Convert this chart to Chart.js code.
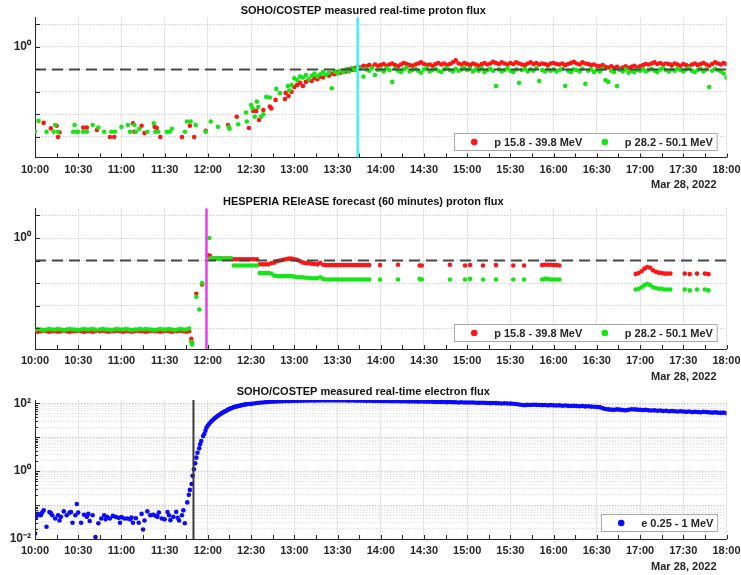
<!DOCTYPE html>
<html>
<head>
<meta charset="utf-8">
<title>SOHO/COSTEP and HESPERIA REleASE - Mar 28, 2022</title>
<script src="https://cdn.jsdelivr.net/npm/chart.js@4.4.1/dist/chart.umd.min.js"></script>
<style>
  body { margin: 0; background: #fff; }
  #wrap { position: relative; width: 741px; height: 575px; overflow: hidden; }
  #wrap canvas { position: absolute; left: 0; }
</style>
</head>
<body>
<div id="wrap">
  <canvas id="c1" width="741" height="193" style="top:0px;width:741px;height:193px"></canvas>
  <canvas id="c2" width="741" height="193" style="top:191px;width:741px;height:193px"></canvas>
  <canvas id="c3" width="741" height="193" style="top:382px;width:741px;height:193px"></canvas>
</div>
<script>
// times are minutes after 00:00 UT on Mar 28, 2022
const xTickLabels = ['10:00','10:30','11:00','11:30','12:00','12:30','13:00','13:30','14:00','14:30','15:00','15:30','16:00','16:30','17:00','17:30','18:00'];
const dateLabel = 'Mar 28, 2022';

const protonTicks = [0.0625, 0.125, 0.25, 0.5, 1, 2];
const protonTickLabels = ['', '', '', '', '10⁰', ''];
const protonThreshold = 0.5;

const electronDecades = [0.01, 0.1, 1, 10, 100];
const electronDecadeLabels = ['10⁻²', '', '10⁰', '', '10²'];

const labelLow = 'p 15.8 - 39.8 MeV';
const labelHigh = 'p 28.2 - 50.1 MeV';
const labelElectron = 'e 0.25 - 1 MeV';

// event markers
const sohoOnset = 824;      // 13:44
const releaseIssue = 719;   // 11:59
const electronOnset = 710;  // 11:50

function cadence(start, step, n) {
  return Array.from({ length: n }, (_, i) => start + i * step);
}

// ---- panel 1: SOHO/COSTEP measured protons ----
const sohoLowEarlyT = [606, 611, 615, 616, 617, 633.5, 636, 643, 652, 655, 668, 669, 674, 676, 683, 684.5, 687, 702, 707.5, 710.5, 718.5, 734, 740, 748.5, 751.5, 753.5, 755.5, 758.5, 763, 764, 767, 773.5, 774, 776, 778];
const sohoLowEarlyV = [.096, .081, .088, .062, .072, .083, .083, .077, .062, .062, .095, .073, .088, .070, .085, .082, .062, .062, .088, .062, .075, .090, .116, .082, .139, .139, .105, .143, .159, .150, .195, .200, .242, .220, .250];
const sohoHighEarlyT = [600, 602.5, 608, 613, 614, 616, 626.5, 627.5, 629, 630, 633.5, 636, 640, 644, 648, 653, 655.5, 660, 664.5, 666, 669, 670, 672.5, 678, 682.5, 683.5, 685.5, 691.5, 693.5, 695, 704, 705.5, 708, 711.5, 718.5, 722, 727, 734.5, 735, 741, 746.5, 747, 751, 750, 754, 755, 752.5, 757, 758.5, 760.5, 763, 767.5, 770, 775.5, 776.5, 778];
const sohoHighEarlyV = [.0735, .102, .073, .073, .090, .073, .073, .090, .073, .073, .073, .073, .090, .083, .073, .073, .073, .085, .090, .073, .090, .073, .080, .073, .095, .073, .073, .073, .073, .080, .073, .100, .100, .090, .073, .100, .085, .085, .080, .092, .132, .100, .151, .167, .185, .157, .116, .116, .125, .214, .210, .274, .240, .300, .260, .310];

// 2-minute samples from 13:00 to 18:00
const sohoLowLate = [
  .29, .31, .33, .30, .34, .36, .35, .38, .37, .40, .39, .42, .41, .44, .43, .46,
  .45, .48, .47, .50, .49, .52, .54, .53, .56, .55, .57, .54, .58, .56,
  .57, .59, .56, .58, .60, .57, .55, .58, .61, .59, .57, .56, .58, .60, .62, .59, .57, .58, .56, .59, .61, .58, .60, .57, .59, .62, .66, .60, .58, .61,
  .59, .57, .60, .58, .56, .59, .61, .58, .60, .63, .61, .59, .62, .60, .58, .61, .59, .62, .60, .58, .57, .60, .62, .59, .61, .58, .60, .59, .57, .60,
  .61, .59, .58, .60, .57, .59, .61, .63, .60, .58, .62, .60, .59, .57, .58, .56, .55, .57, .54, .53, .55, .52, .54, .51, .53, .55, .52, .54, .56, .53,
  .55, .57, .59, .58, .60, .62, .59, .61, .58, .60, .59, .57, .60, .58, .56, .59, .57, .55, .58, .60, .57, .59, .61, .58, .56, .59, .62, .60, .58, .61,
  .59
];
const sohoHighLate = [
  .38, .36, .40, .39, .42, .37, .41, .44, .40, .43, .46, .42, .45, .28, .47, .44,
  .48, .46, .50, .47, .52, .49, .53, .51, .40, .50, .48, .52, .42, .49,
  .50, .47, .52, .49, .34, .51, .48, .46, .50, .53, .47, .49, .51, .48, .45, .50, .52, .47, .49, .51, .48, .46, .50, .52, .49, .47, .51, .48, .50, .53,
  .49, .51, .47, .50, .48, .52, .46, .49, .51, .48, .30, .50, .47, .49, .52, .48, .46, .50, .33, .49, .51, .47, .50, .48, .52, .35, .49, .47, .50, .48,
  .50, .47, .49, .51, .30, .48, .46, .50, .49, .47, .51, .32, .48, .50, .46, .49, .47, .51, .36, .34, .48, .46, .30, .49, .47, .50, .45, .48, .46, .49,
  .48, .50, .47, .49, .51, .48, .46, .50, .52, .49, .47, .50, .48, .51, .49, .47, .50, .52, .48, .46, .49, .51, .47, .50, .29, .48, .51, .49, .47, .44,
  .39
];
const sohoLateT = cadence(780, 2, 151);

// ---- panel 2: HESPERIA REleASE forecast ----
const relBaseT = [].concat(cadence(600, 2, 22), cadence(645, 2, 15), cadence(675, 2, 17));
const relLowBase = [
  .057, .056, .057, .058, .057, .056, .057, .057, .056, .057, .058, .057, .056, .057, .057, .058, .057, .056, .057, .057, .056, .057,
  .057, .058, .057, .056, .057, .057, .058, .057, .056, .057, .057, .056, .057, .058, .057,
  .057, .056, .057, .058, .057, .057, .056, .057, .058, .057, .056, .057, .057, .058, .057, .056, .057
];
const relHighBase = [
  .060, .061, .060, .059, .060, .061, .060, .060, .061, .060, .059, .060, .061, .060, .060, .059, .060, .061, .060, .060, .061, .060,
  .060, .061, .060, .060, .059, .060, .061, .060, .060, .061, .060, .059, .060, .060, .061,
  .060, .061, .060, .060, .059, .060, .061, .060, .060, .061, .060, .059, .060, .061, .060, .060, .062
];
const relLowRiseT = [708.5, 709, 712, 716, 720, 721.5];
const relLowRiseV = [.045, .040, .18, .24, .59, .58];
const relHighRiseT = [708.5, 709, 712, 714, 716, 721];
const relHighRiseV = [.041, .038, .165, .111, .25, 1.0];

const relRunT = cadence(722, 2, 56);
const relLowRun = [
  .53, .53, .53, .53, .53, .53, .53, .53,
  .52, .52, .52, .52, .52, .52, .52, .52, .52,
  .445, .445, .445, .445,
  .46,
  .47, .49, .50, .51, .52, .53, .53, .52,
  .51, .49, .47, .46, .46, .455, .45, .445,
  .465,
  .44, .435, .435, .435, .435, .435, .435, .435, .435, .435, .435, .435, .435, .435, .435, .435, .435
];
const relHighRun = [
  .54, .53, .53, .53, .53, .53, .53, .53,
  .43, .43, .43, .43, .43, .43, .43, .43, .43,
  .34, .34, .34, .34, .335,
  .315, .31, .31, .31, .31, .31, .31, .305,
  .30, .30, .30, .295, .295, .29, .29, .29,
  .30,
  .285, .28, .28, .28, .28, .28, .28, .28, .28, .28, .28, .28, .28, .28, .28, .28, .28
];
const relGapT = [].concat([839.5, 852, 867, 868.5, 888, 898.5, 902, 911, 920, 932, 939.5], cadence(952, 2, 7));
const relLowGap = [.435, .44, .43, .43, .44, .43, .435, .43, .435, .43, .43, .435, .44, .44, .44, .435, .435, .43];
const relHighGap = [.28, .28, .285, .28, .28, .28, .285, .28, .28, .28, .28, .28, .285, .285, .28, .28, .28, .28];
const relTailT = [].concat(cadence(1017, 2, 13), [1051, 1054.5, 1059.5, 1065, 1067.5]);
const relLowTail = [.33, .34, .36, .39, .41, .40, .37, .355, .345, .34, .335, .335, .335, .335, .33, .335, .335, .33];
const relHighTail = [.205, .21, .22, .235, .245, .235, .22, .215, .21, .21, .205, .205, .205, .205, .20, .205, .205, .20];

// ---- panel 3: SOHO/COSTEP measured electrons ----
const elecQuietT = cadence(600, 2, 53);
const elecQuietV = [.0145, .055, .05, .07, .023, .062, .05, .04, .05, .045, .065, .05, .06, .03, .05, .06, .03, .052, .045, .034, .05, .0115, .029, .04, .05, .045, .04, .048, .045, .042, .044, .04, .04, .038, .03, .041, .03, .055, .035, .065, .05, .052, .048, .06, .04, .038, .062, .036, .045, .063, .035, .05, .029];
const elecExtraT = [601, 605, 611, 617, 625, 629, 637, 649, 659, 667, 675, 685, 693, 699, 703];
const elecExtraV = [.045, .06, .058, .035, .062, .108, .055, .038, .03, .043, .019, .045, .05, .042, .07];
const elecRiseT = [705.7, 706.8, 707.5, 708.7, 709.4, 710.3, 711.2, 712, 712.8, 714, 714.6, 715.4, 716.7, 717.5, 718.3, 719, 720, 721, 722, 723, 724, 725, 726, 727, 728, 729, 730, 731, 732, 733, 734, 735, 736, 737, 738, 739, 740, 741, 742, 743, 744, 745, 746, 747, 748];
const elecRiseV = [.12, .20, .28, .42, .73, 1.14, 1.7, 2.5, 3.5, 4.7, 6.2, 7.7, 10.8, 12.5, 15.5, 19, 22, 25, 28, 31, 34, 37, 40, 43, 46, 49, 52, 55, 58, 61, 65, 68, 71, 74, 77, 79, 81, 83, 85, 87, 89, 91, 93, 94, 95];
const elecLateT = cadence(750, 2, 166);
const elecLateV = [
  96, 99, 102, 104, 106, 108, 110, 111, 112, 113, 114, 115, 116, 116, 117,
  118, 118, 119, 119, 120, 120, 121, 120, 121, 121, 122, 121, 122, 122, 121,
  122, 121, 122, 121, 120, 121, 120, 119, 120, 119, 118, 119, 118, 117, 118,
  117, 116, 117, 116, 115, 116, 115, 114, 115, 114, 113, 114, 113, 112, 113,
  112, 111, 112, 111, 110, 109, 110, 109, 108, 109, 108, 107, 106, 107, 106,
  105, 106, 105, 104, 103, 104, 103, 102, 101, 102, 101, 100, 99, 100, 99,
  98, 97, 95, 92, 89, 88, 90, 89, 91, 90, 89, 88, 89, 87, 88,
  87, 86, 87, 85, 86, 84, 83, 84, 83, 82, 83, 81, 82, 80, 79,
  78, 77, 72, 68, 66, 65, 64, 66, 65, 63, 62, 64, 67, 66, 65,
  64, 63, 64, 62, 61, 62, 60, 61, 59, 60, 58, 59, 58, 57, 58,
  57, 56, 57, 55, 56, 55, 54, 56, 55, 54, 53, 54, 53, 52, 53, 51
];

const RED = '#ff1414';
const GREEN = '#14e614';
const BLUE = '#0a0aff';
const AXIS = '#262626';
const FONT_FAMILY = '"Liberation Sans", Arial, sans-serif';
const boldFont = { family: FONT_FAMILY, size: 11, weight: 'bold' };

function toPoints(times, values) {
  return times.map((t, i) => ({ x: t, y: values[i] }));
}

function scatterSet(label, color, times, values, order) {
  return {
    type: 'scatter', label: label, data: toPoints(times, values),
    backgroundColor: color, borderColor: color, pointRadius: 2.3, pointBorderWidth: 0, order: order
  };
}

function lineSet(points, color, width, dash, order) {
  return {
    type: 'line', data: points, borderColor: color, borderWidth: width, borderDash: dash,
    pointRadius: 0, fill: false, order: order
  };
}

// inward tick marks, boxed legend inside the axes and the date under the axis
const matlabAxes = {
  id: 'matlabAxes',
  afterDraw(chart, args, opts) {
    const { ctx, chartArea: a, scales: { x, y } } = chart;
    ctx.save();
    ctx.strokeStyle = AXIS;
    ctx.lineWidth = 1;
    ctx.beginPath();
    for (let m = x.min; m <= x.max; m += 15) {
      const px = Math.round(x.getPixelForValue(m)) + 0.5;
      ctx.moveTo(px, a.bottom);
      ctx.lineTo(px, a.bottom - 4);
    }
    y.ticks.forEach(t => {
      const py = Math.round(y.getPixelForValue(t.value)) + 0.5;
      const len = opts.minorTick && opts.minorTick(t.value) ? 3 : 5;
      ctx.moveTo(a.left, py);
      ctx.lineTo(a.left + len, py);
    });
    ctx.stroke();

    // legend
    const items = chart.data.datasets.filter(d => d.label);
    ctx.font = 'bold 11px ' + FONT_FAMILY;
    const widths = items.map(d => ctx.measureText(d.label).width);
    let w = 19.7 + 4.3 + 22.6 * (items.length - 1);
    widths.forEach(tw => { w += 20 + tw; });
    const h = 17;
    const bx = Math.round(a.right - 9.5 - w) + 0.5;
    const by = Math.round(a.bottom - 8 - h) + 0.5;
    ctx.fillStyle = '#fff';
    ctx.fillRect(bx, by, w, h);
    ctx.strokeStyle = '#a8a8a8';
    ctx.strokeRect(bx, by, w, h);
    let cx = bx + 19.7;
    const cy = by + h / 2;
    items.forEach((d, i) => {
      ctx.fillStyle = d.backgroundColor;
      ctx.beginPath();
      ctx.arc(cx, cy, 3.3, 0, Math.PI * 2);
      ctx.fill();
      ctx.fillStyle = AXIS;
      ctx.textAlign = 'left';
      ctx.textBaseline = 'middle';
      ctx.fillText(d.label, cx + 20, cy + 0.5);
      cx += 20 + widths[i] + 22.6;
    });

    // date
    ctx.fillStyle = AXIS;
    ctx.textAlign = 'right';
    ctx.textBaseline = 'middle';
    ctx.fillText(dateLabel, a.right - 10, a.bottom + 27.5);
    ctx.restore();
  }
};

function makePanel(canvasId, cfg) {
  return new Chart(document.getElementById(canvasId), {
    type: 'scatter',
    data: { datasets: cfg.datasets },
    options: {
      responsive: false,
      animation: false,
      devicePixelRatio: 1,
      events: [],
      layout: { padding: { left: 0, right: 14.5, top: 0, bottom: 0 } },
      plugins: {
        legend: { display: false },
        tooltip: { enabled: false },
        title: {
          display: true, text: cfg.title, color: '#111', font: boldFont,
          padding: { top: cfg.titleTop, bottom: cfg.titleBottom }
        },
        matlabAxes: { minorTick: cfg.minorTick }
      },
      scales: {
        x: {
          type: 'linear', min: 600, max: 1080,
          ticks: {
            stepSize: 30, autoSkip: false, maxRotation: 0, padding: 5.5,
            color: AXIS, font: boldFont,
            callback: (v, i) => xTickLabels[i]
          },
          grid: { color: '#e4e4e4', drawTicks: false },
          border: { color: AXIS },
          afterFit: s => { s.height = cfg.xHeight; s.paddingLeft = 0; s.paddingRight = 0; }
        },
        y: {
          type: 'logarithmic', min: cfg.yMin, max: cfg.yMax,
          afterBuildTicks: s => { s.ticks = cfg.yTicks.map(v => ({ value: v })); },
          ticks: {
            autoSkip: false, padding: 4, color: AXIS,
            font: { family: FONT_FAMILY, size: 12, weight: 'bold' },
            callback: (v, i) => cfg.yLabels[i]
          },
          grid: { color: cfg.yGridColor || '#d2d2d2', drawTicks: false },
          border: { color: AXIS, dash: [1.5, 1.5] },
          afterFit: s => { s.width = 35; s.paddingTop = 0; s.paddingBottom = 0; }
        }
      }
    },
    plugins: [matlabAxes]
  });
}

const protonMin = 0.033;
const protonMax = 2.5;

makePanel('c1', {
  title: 'SOHO/COSTEP measured real-time proton flux',
  titleTop: 4, titleBottom: 0, xHeight: 35.5,
  yMin: protonMin, yMax: protonMax, yTicks: protonTicks, yLabels: protonTickLabels,
  datasets: [
    scatterSet(labelLow, RED, sohoLowEarlyT.concat(sohoLateT), sohoLowEarlyV.concat(sohoLowLate), 3),
    scatterSet(labelHigh, GREEN, sohoHighEarlyT.concat(sohoLateT), sohoHighEarlyV.concat(sohoHighLate), 2),
    lineSet([{ x: 600, y: protonThreshold }, { x: 1080, y: protonThreshold }], '#474747', 2, [11, 6], 1),
    lineSet([{ x: sohoOnset, y: protonMin }, { x: sohoOnset, y: protonMax }], '#3ff0fa', 2.5, [], 0)
  ]
});

makePanel('c2', {
  title: 'HESPERIA REleASE forecast (60 minutes) proton flux',
  titleTop: 4, titleBottom: 0, xHeight: 35,
  yMin: protonMin, yMax: protonMax, yTicks: protonTicks, yLabels: protonTickLabels,
  datasets: [
    scatterSet(labelLow, RED,
      [].concat(relBaseT, relLowRiseT, relRunT, relGapT, relTailT),
      [].concat(relLowBase, relLowRiseV, relLowRun, relLowGap, relLowTail), 3),
    scatterSet(labelHigh, GREEN,
      [].concat(relBaseT, relHighRiseT, relRunT, relGapT, relTailT),
      [].concat(relHighBase, relHighRiseV, relHighRun, relHighGap, relHighTail), 2),
    lineSet([{ x: 600, y: protonThreshold }, { x: 1080, y: protonThreshold }], '#474747', 2, [11, 6], 1),
    lineSet([{ x: releaseIssue, y: protonMin }, { x: releaseIssue, y: protonMax }], '#f23cf2', 2.5, [], 0)
  ]
});

// electron axis: decades plus 2..9 minor lines
const electronTicks = [];
const electronLabels = [];
const electronMajor = new Set();
electronDecades.forEach((d, k) => {
  electronTicks.push(d);
  electronLabels.push(electronDecadeLabels[k]);
  electronMajor.add(d);
  if (k < electronDecades.length - 1) {
    for (let m = 2; m <= 9; m++) {
      electronTicks.push(+(d * m).toPrecision(3));
      electronLabels.push('');
    }
  }
});
const electronMin = 0.01;
const electronMax = 125;

makePanel('c3', {
  title: 'SOHO/COSTEP measured real-time electron flux',
  titleTop: 3.4, titleBottom: 1.4, xHeight: 36,
  yMin: electronMin, yMax: electronMax, yTicks: electronTicks, yLabels: electronLabels,
  yGridColor: c => (c.tick && electronMajor.has(c.tick.value)) ? '#cdcdcd' : '#e2e2e2',
  minorTick: v => !electronMajor.has(v),
  datasets: [
    scatterSet(labelElectron, BLUE,
      [].concat(elecQuietT, elecExtraT, elecRiseT, elecLateT),
      [].concat(elecQuietV, elecExtraV, elecRiseV, elecLateV), 2),
    lineSet([{ x: electronOnset, y: electronMin }, { x: electronOnset, y: electronMax }], '#3a3a3a', 2, [], 0)
  ]
});
</script>
</body>
</html>
